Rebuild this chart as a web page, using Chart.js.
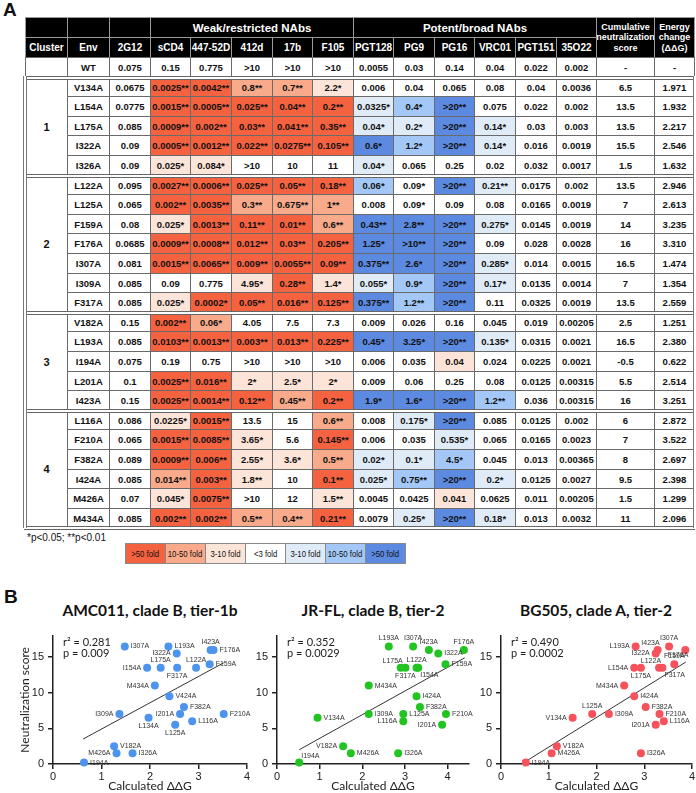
<!DOCTYPE html>
<html>
<head>
<meta charset="utf-8">
<script src="https://cdn.jsdelivr.net/npm/chart.js@4.4.1/dist/chart.umd.min.js"></script>
<style>
  body{margin:0;width:696px;height:793px;position:relative;overflow:hidden;background:#fff;font-family:'Liberation Sans',Arial,sans-serif;color:#111;}
  .c{position:absolute;box-sizing:border-box;border:1px solid #6a6a6a;display:flex;align-items:center;justify-content:center;text-align:center;font-weight:bold;font-size:9.5px;white-space:nowrap;background:#fff;}
  .h{background:#000;color:#fff;border-color:#9a9a9a;font-size:10px;}
  .big{font-size:11.5px;}
  .small{font-size:9px;line-height:10.5px;}
  .cl{font-size:11px;}
  .dbl{position:absolute;left:24px;width:671px;height:2px;border-top:1px solid #666;border-bottom:1px solid #666;background:#fff;}
  .vdbl{position:absolute;width:2px;border-left:1px solid #777;border-right:1px solid #777;background:#fff;}
  .panel{position:absolute;font-weight:bold;font-size:19px;line-height:19px;}
  .ptitle{position:absolute;top:601px;width:230px;line-height:18px;text-align:center;font-family:Lato,'Open Sans',sans-serif;font-weight:bold;font-size:15.5px;color:#111;}
  .lg{position:absolute;top:543px;width:41px;height:21px;box-sizing:border-box;border:1px solid #8a8a8a;display:flex;align-items:center;justify-content:center;font-size:9px;white-space:nowrap;}
  .lg span{display:inline-block;transform:scaleX(0.86);}
  canvas{position:absolute;}
</style>
</head>
<body>
<div class="panel" style="left:3px;top:0px">A</div>
<div id="tbl"></div>
<div style="position:absolute;left:27px;top:532px;font-size:10px;">*p&lt;0.05; **p&lt;0.01</div>
<div id="legend"></div>
<div class="panel" style="left:4px;top:587px">B</div>
<div class="ptitle" style="left:35px">AMC011, clade B, tier-1b</div>
<div class="ptitle" style="left:258px">JR-FL, clade B, tier-2</div>
<div class="ptitle" style="left:481px">BG505, clade A, tier-2</div>
<canvas id="c1" width="255" height="168" style="left:0px;top:625px;width:255px;height:168px"></canvas>
<canvas id="c2" width="235" height="168" style="left:240px;top:625px;width:235px;height:168px"></canvas>
<canvas id="c3" width="226" height="168" style="left:470px;top:625px;width:226px;height:168px"></canvas>
<script>
// ---- panel A data ----
const antibodies = ['2G12','sCD4','447-52D','412d','17b','F105','PGT128','PG9','PG16','VRC01','PGT151','35O22'];
const envNames = ['WT','V134A','L154A','L175A','I322A','I326A','L122A','L125A','F159A','F176A','I307A','I309A','F317A',
  'V182A','L193A','I194A','L201A','I423A','L116A','F210A','F382A','I424A','M426A','M434A'];
const clusterNames = ['1','2','3','4'];
const clusterSizes = [5,7,5,6];
const ic50 = [
  ['0.075','0.15','0.775','>10','>10','>10','0.0055','0.03','0.14','0.04','0.022','0.002'],
  ['0.0675','0.0025**','0.0042**','0.8**','0.7**','2.2*','0.006','0.04','0.065','0.08','0.04','0.0036'],
  ['0.0775','0.0015**','0.0005**','0.025**','0.04**','0.2**','0.0325*','0.4*','>20**','0.075','0.022','0.002'],
  ['0.085','0.0009**','0.002**','0.03**','0.041**','0.35**','0.04*','0.2*','>20**','0.14*','0.03','0.003'],
  ['0.09','0.0005**','0.0012**','0.022**','0.0275**','0.105**','0.6*','1.2*','>20**','0.14*','0.016','0.0019'],
  ['0.09','0.025*','0.084*','>10','10','11','0.04*','0.065','0.25','0.02','0.032','0.0017'],
  ['0.095','0.0027**','0.0006**','0.025**','0.05**','0.18**','0.06*','0.09*','>20**','0.21**','0.0175','0.002'],
  ['0.065','0.002**','0.0035**','0.3**','0.675**','1**','0.008','0.09*','0.09','0.08','0.0165','0.0019'],
  ['0.08','0.025*','0.0013**','0.11**','0.01**','0.6**','0.43**','2.8**','>20**','0.275*','0.0145','0.0019'],
  ['0.0685','0.0009**','0.0008**','0.012**','0.03**','0.205**','1.25*','>10**','>20**','0.09','0.028','0.0028'],
  ['0.081','0.0015**','0.0065**','0.009**','0.0055**','0.09**','0.375**','2.6*','>20**','0.285*','0.014','0.0015'],
  ['0.085','0.09','0.775','4.95*','0.28**','1.4*','0.055*','0.9*','>20**','0.17*','0.0135','0.0014'],
  ['0.085','0.025*','0.0002*','0.05**','0.016**','0.125**','0.375**','1.2**','>20**','0.11','0.0325','0.0019'],
  ['0.15','0.002**','0.06*','4.05','7.5','7.3','0.009','0.026','0.16','0.045','0.019','0.00205'],
  ['0.085','0.0103**','0.0013**','0.003**','0.013**','0.225**','0.45*','3.25*','>20**','0.135*','0.0315','0.0021'],
  ['0.075','0.19','0.75','>10','>10','>10','0.006','0.035','0.04','0.024','0.0225','0.0021'],
  ['0.1','0.0025**','0.016**','2*','2.5*','2*','0.009','0.06','0.25','0.08','0.0125','0.00315'],
  ['0.15','0.0025**','0.0014**','0.12**','0.45**','0.2**','1.9*','1.6*','>20**','1.2**','0.036','0.00315'],
  ['0.086','0.0225*','0.0015**','13.5','15','0.6**','0.008','0.175*','>20**','0.085','0.0125','0.002'],
  ['0.065','0.0015**','0.0085**','3.65*','5.6','0.145**','0.006','0.035','0.535*','0.065','0.0165','0.0023'],
  ['0.089','0.0009**','0.006**','2.55*','3.6*','0.5**','0.02*','0.1*','4.5*','0.045','0.013','0.00365'],
  ['0.085','0.014**','0.003**','1.8**','10','0.1**','0.025*','0.75**','>20**','0.2*','0.0125','0.0027'],
  ['0.07','0.045*','0.0075**','>10','12','1.5**','0.0045','0.0425','0.041','0.0625','0.011','0.00205'],
  ['0.085','0.002**','0.002**','0.5**','0.4**','0.21**','0.0079','0.25*','>20**','0.18*','0.013','0.0032']
];
// fold change class per cell: R >50 up, O 10-50 up, P 3-10 up, . <3, b 3-10 down, M 10-50 down, B >50 down
const foldCodes = [
  '............','.RROOP......','.RRRRRbMB...','.RRRRRbbBb..','.RRRRRBMBb..','.PP...b.....',
  '.RRRRRM.Bb..','.RROOO......','.PRRROBBBb..','.RRRRRBBB...','.RRRRRBBBb..','...PRPbMBb..','.PRRRRBMB...',
  '.RO.........','.RRRRRBBBb..','........P...','.RRPPP......','.RRRORBBBM..',
  '.PR..O.bB...','.RRP.R..b...','.RRPPObbM...','.ORP.RbMBb..','.PR..P..P...','.RROOR.bBb..'
];
const neutScore = ['-','6.5','13.5','13.5','15.5','1.5','13.5','7','14','16','16.5','7','13.5','2.5','16.5','-0.5','5.5','16','6','7','8','9.5','1.5','11'];
const ddG = ['-','1.971','1.932','2.217','2.546','1.632','2.946','2.613','3.235','3.310','1.474','1.354','2.559','1.251','2.380','0.622','2.514','3.251','2.872','3.522','2.697','2.398','1.299','2.096'];
const legendCodes = ['R','O','P','.','b','M','B'];
const legendLabels = ['>50 fold','10-50 fold','3-10 fold','<3 fold','3-10 fold','10-50 fold','>50 fold'];

// ---- panel B data ----
const amcNames = ['I307A','L193A','I322A','I423A','F176A','I154A','L175A','F317A','L122A','F159A','M434A','V424A','F382A','I309A','I201A','F210A','L134A','L116A','L125A','V182A','M426A','I326A','I194A'];
const amcDDG   = [1.48,2.38,2.55,3.25,3.31,1.94,2.22,2.56,2.95,3.23,2.10,2.40,2.70,1.37,2.62,3.52,1.97,2.87,2.52,1.26,1.31,1.64,0.64];
const amcScore = [16.5,16.5,15.5,16,16,13.5,13.5,13.5,13.5,14,11,9.5,8,7,7,7,6.5,6,5.5,2.5,1.5,1.5,0.2];
const amcPlace = ['r','r','l','a','r','l','a','b','a','r','l','r','r','l','l','r','b','r','b','r','l','r','r'];
const amcFitX = [0.62,3.52], amcFitY = [3.5,14.2];

const jrflNames = ['L193A','I307A','I423A','F176A','I322A','L175A','F317A','L122A','I154A','F159A','M434A','I424A','F382A','V134A','I309A','L125A','L116A','F210A','I201A','V182A','M426A','I326A','I194A'];
const jrflDDG   = [2.62,3.19,3.56,4.38,3.78,2.90,3.01,3.27,3.31,3.95,2.15,3.27,3.35,0.95,2.15,2.96,2.96,3.96,3.87,1.55,1.73,2.84,0.52];
const jrflScore = [16.5,16.5,16,16,15.5,13.5,13.5,13.5,13.5,14,11,9.5,8,6.5,7,7,6,7,5.5,2.5,1.5,1.5,0.2];
const jrflPlace = ['a','a','a','a','r','al','b','a','br','r','r','r','r','r','r','r','l','r','l','l','r','r','ar'];
const jrflFitX = [0.52,4.4], jrflFitY = [2.0,14.9];

const bgNames = ['L193A','I423A','I307A','F176A','I322A','L154A','L175A','L122A','F317A','F159A','M434A','I424A','F382A','F210A','L116A','I201A','V134A','L125A','I309A','V182A','M426A','I326A','I194A'];
const bgDDG   = [2.82,3.28,3.52,3.86,3.24,2.79,2.93,3.31,3.38,3.63,2.58,2.79,3.03,3.32,3.41,3.24,1.50,1.91,2.26,1.17,1.06,2.93,0.52];
const bgScore = [16.5,16,16.5,16,15.5,13.5,13.5,13.5,13.5,14,11,9.5,8,7,6,5.5,6.5,7,7,2.5,1.5,1.5,0.2];
const bgPlace = ['l','al','a','bl','l','l','b','al','br','a','l','r','r','r','r','l','l','a','r','r','r','r','r'];
const bgFitX = [0.55,3.87], bgFitY = [0.5,14.3];

// ---- table ----
const foldColors = {R:'#f5623f',O:'#f8aa8b',P:'#fde4d8','.':'#ffffff',b:'#dfebf7',M:'#a3c8f7',B:'#5b8ae0'};
const colX = [25,67,109,150,190,231,272,312,353,393,434,474,515,556,596,654,694];
const yTop = 17, yMid = 37, yHead = 57, pitch = 19.6;
const tbl = document.getElementById('tbl');
const box = (x0,x1,y0,y1,html,cls,bg)=>{
  const d=document.createElement('div'); d.className='c'+(cls?' '+cls:'');
  d.style.left=x0+'px'; d.style.top=y0+'px'; d.style.width=(x1-x0+1)+'px'; d.style.height=(y1-y0+1)+'px';
  if(bg) d.style.background=bg; d.innerHTML=html; tbl.appendChild(d); return d;
};
const esc=(s)=>s.replace(/&/g,'&amp;').replace(/</g,'&lt;').replace(/>/g,'&gt;');
const rowY=(r)=>Math.round(yHead+r*pitch);

for(let i=0;i<3;i++) box(colX[i],colX[i+1],yTop,yMid,'','h');
box(colX[3],colX[8],yTop,yMid,'Weak/restricted NAbs','h big');
box(colX[8],colX[14],yTop,yMid,'Potent/broad NAbs','h big');
box(colX[14],colX[15],yTop,yHead,'Cumulative<br>neutralization<br>score','h small');
box(colX[15],colX[16],yTop,yHead,'Energy<br>change<br>(ΔΔG)','h small');
['Cluster','Env',...antibodies].forEach((t,i)=>box(colX[i],colX[i+1],yMid,yHead,t,'h'));

envNames.forEach((env,r)=>{
  const y0=rowY(r), y1=rowY(r+1);
  box(colX[1],colX[2],y0,y1,env);
  ic50[r].forEach((v,k)=>box(colX[k+2],colX[k+3],y0,y1,esc(v),'',foldColors[foldCodes[r][k]]));
  box(colX[14],colX[15],y0,y1,neutScore[r]);
  box(colX[15],colX[16],y0,y1,ddG[r]);
});
box(colX[0],colX[1],rowY(0),rowY(1),'');
let start=1;
const groupStarts=[];
clusterNames.forEach((c,i)=>{
  groupStarts.push(start);
  box(colX[0],colX[1],rowY(start),rowY(start+clusterSizes[i]),c,'cl');
  start+=clusterSizes[i];
});
groupStarts.concat([start]).forEach(r=>{
  const d=document.createElement('div'); d.className='dbl'; d.style.top=(rowY(r)-1)+'px'; tbl.appendChild(d);
});
[colX[0]-2,colX[16]-1].forEach(x=>{
  const d=document.createElement('div'); d.className='vdbl';
  d.style.left=x+'px'; d.style.top=(rowY(1)-1)+'px'; d.style.height=(rowY(start)-rowY(1)+2)+'px'; tbl.appendChild(d);
});

// legend
const lg=document.getElementById('legend');
legendLabels.forEach((t,i)=>{
  const d=document.createElement('div'); d.className='lg';
  d.style.left=(125+i*40)+'px'; d.style.background=foldColors[legendCodes[i]];
  d.innerHTML='<span>'+esc(t)+'</span>'; lg.appendChild(d);
});

// ---- scatter plots ----
const pointNames = {
  id:'pointNames',
  afterDatasetsDraw(chart,args,opts){
    const ctx=chart.ctx, meta=chart.getDatasetMeta(0), a=chart.chartArea;
    ctx.save();
    ctx.font='7px "Liberation Sans", Arial, sans-serif'; ctx.fillStyle='#333';
    meta.data.forEach((pt,i)=>{
      let x=pt.x, y=pt.y, al='left';
      switch(opts.places[i]){
        case 'r': x+=6; break;
        case 'l': x-=6; al='right'; break;
        case 'a': y-=8; al='center'; break;
        case 'b': y+=8; al='center'; break;
        case 'al': x+=2; y-=7; al='right'; break;
        case 'ar': x+=2; y-=7; break;
        case 'br': x+=2; y+=7; break;
        case 'bl': x+=3; y+=5; al='right'; break;
      }
      ctx.textAlign=al; ctx.textBaseline='middle'; ctx.fillText(opts.names[i],x,y);
    });
    ctx.font='11px Lato, "Open Sans", sans-serif'; ctx.fillStyle='#222'; ctx.textAlign='left';
    ctx.fillText('r² = '+opts.r2, a.left+10, a.top+7);
    ctx.fillText('p = '+opts.p, a.left+10, a.top+18);
    ctx.restore();
  }
};

const axisCol='#222';
const scatter=(id,color,names,xs,ys,places,fitX,fitY,r2,p,xMax,yWidth,padR,yTitle)=>new Chart(document.getElementById(id),{
  type:'scatter',
  data:{datasets:[
    {data:xs.map((x,i)=>({x,y:ys[i]})),backgroundColor:color,borderColor:color,pointRadius:4,pointHoverRadius:4,borderWidth:0,clip:false,order:1},
    {type:'line',data:fitX.map((x,i)=>({x,y:fitY[i]})),borderColor:'#333',borderWidth:1,pointRadius:0,showLine:true,fill:false,order:2}
  ]},
  options:{
    responsive:false,animation:false,events:[],
    layout:{padding:{top:10.7,left:0,right:padR,bottom:0}},
    plugins:{legend:{display:false},tooltip:{enabled:false},pointNames:{names,places,r2,p}},
    scales:{
      x:{type:'linear',min:0,max:xMax,
        ticks:{stepSize:1,includeBounds:false,padding:1,color:axisCol,font:{family:'Liberation Sans',size:11}},
        grid:{drawOnChartArea:false,tickLength:5,color:axisCol,lineWidth:1.5},
        border:{color:axisCol,width:1.5},
        title:{display:true,text:'Calculated ΔΔG',color:axisCol,font:{family:'Lato',size:12},padding:{top:0,bottom:0}},
        afterFit:s=>{s.height=29;s.paddingLeft=0;s.paddingRight=0;}},
      y:{min:0,max:18,
        ticks:{stepSize:5,includeBounds:false,padding:4,color:axisCol,font:{family:'Liberation Sans',size:11}},
        grid:{drawOnChartArea:false,tickLength:5,color:axisCol,lineWidth:1.5},
        border:{color:axisCol,width:1.5},
        title:{display:yTitle,text:'Neutralization score',color:axisCol,font:{family:'Lato',size:12},padding:{top:18,bottom:0}},
        afterFit:s=>{s.width=yWidth;s.paddingTop=0;s.paddingBottom=0;}}
    }
  },
  plugins:[pointNames]
});

scatter('c1','#4d94ef',amcNames,amcDDG,amcScore,amcPlace,amcFitX,amcFitY,'0.281','0.009',4,53,8,true);
scatter('c2','#22c422',jrflNames,jrflDDG,jrflScore,jrflPlace,jrflFitX,jrflFitY,'0.352','0.0029',4.5,37,6,false);
scatter('c3','#f6525c',bgNames,bgDDG,bgScore,bgPlace,bgFitX,bgFitY,'0.490','0.0002',4,31,4,false);
</script>
</body>
</html>
